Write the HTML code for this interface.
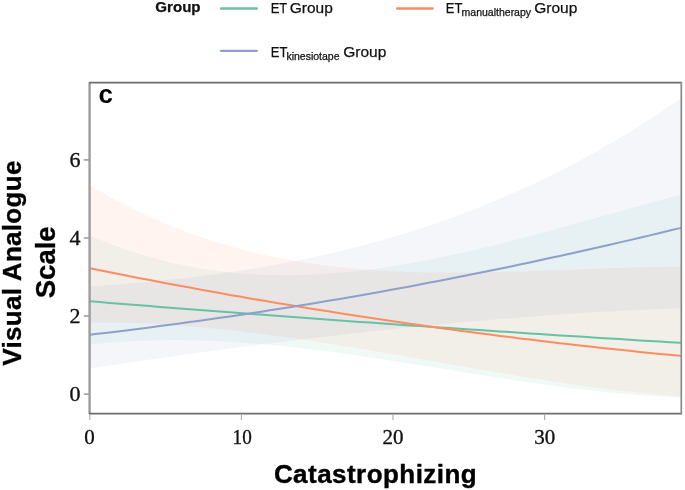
<!DOCTYPE html>
<html><head><meta charset="utf-8">
<style>
html,body{margin:0;padding:0;background:#fff;}
body{width:685px;height:490px;overflow:hidden;}
svg{display:block;will-change:transform;filter:blur(0.4px);}
text{font-family:"Liberation Sans",sans-serif;fill:#000;}
.tk{font-family:"Liberation Serif",serif;font-size:21px;fill:#111;stroke:#111;stroke-width:0.35px;}
.lg{font-size:15.5px;fill:#111;stroke:#111;stroke-width:0.25px;}
.lg.sub{font-size:10.5px;}
.b{font-weight:bold;}
</style></head><body>
<svg width="685" height="490" viewBox="0 0 685 490">
<rect width="685" height="490" fill="#fff"/>
<!-- legend -->
<text x="155.3" y="12.4" class="lg b" style="font-size:15px" textLength="45.3" lengthAdjust="spacingAndGlyphs">Group</text>
<line x1="221.1" y1="8.5" x2="256.9" y2="8.5" stroke="#66C2A5" stroke-width="2.3" stroke-linecap="round"/>
<text x="270.7" y="12.9" class="lg" textLength="16.6" lengthAdjust="spacingAndGlyphs">ET</text><text x="289.7" y="12.9" class="lg">Group</text>
<line x1="397.1" y1="8.5" x2="432.7" y2="8.5" stroke="#FC8D62" stroke-width="2.3" stroke-linecap="round"/>
<text x="445.8" y="12.9" class="lg" textLength="16.6" lengthAdjust="spacingAndGlyphs">ET</text><text x="461.6" y="15.5" class="lg sub">manualtherapy</text><text x="534.2" y="12.9" class="lg">Group</text>
<line x1="221" y1="50.8" x2="256.8" y2="50.8" stroke="#8DA0CB" stroke-width="2.3" stroke-linecap="round"/>
<text x="270.8" y="57.4" class="lg" textLength="16.6" lengthAdjust="spacingAndGlyphs">ET</text><text x="286.4" y="60.1" class="lg sub">kinesiotape</text><text x="343.2" y="57.4" class="lg">Group</text>
<!-- plot -->
<path d="M89.8,235.3 L95.8,237.9 L101.8,240.4 L107.8,242.9 L113.8,245.2 L119.8,247.4 L125.8,249.5 L131.8,251.5 L137.8,253.5 L143.8,255.3 L149.8,257.1 L155.8,258.7 L161.8,260.3 L167.8,261.8 L173.8,263.2 L179.8,264.5 L185.8,265.8 L191.8,266.9 L197.8,268.0 L203.8,269.0 L209.8,269.9 L215.8,270.8 L221.8,271.5 L227.8,272.2 L233.8,272.8 L239.8,273.4 L245.8,273.8 L251.8,274.2 L257.8,274.6 L263.8,274.8 L269.8,275.0 L275.8,275.1 L281.8,275.2 L287.8,275.2 L293.8,275.1 L299.8,275.0 L305.8,274.8 L311.8,274.6 L317.8,274.3 L323.8,273.9 L329.8,273.5 L335.8,273.1 L341.8,272.5 L347.8,272.0 L353.8,271.4 L359.8,270.7 L365.8,270.0 L371.8,269.2 L377.8,268.4 L383.8,267.5 L389.8,266.6 L395.8,265.7 L401.8,264.7 L407.8,263.7 L413.8,262.6 L419.8,261.5 L425.8,260.4 L431.8,259.2 L437.8,258.0 L443.8,256.8 L449.8,255.5 L455.8,254.2 L461.8,252.9 L467.8,251.6 L473.8,250.2 L479.8,248.8 L485.8,247.3 L491.8,245.9 L497.8,244.4 L503.8,242.9 L509.8,241.4 L515.8,239.8 L521.8,238.3 L527.8,236.7 L533.8,235.1 L539.8,233.5 L545.8,231.9 L551.8,230.3 L557.8,228.6 L563.8,227.0 L569.8,225.3 L575.8,223.7 L581.8,222.0 L587.8,220.3 L593.8,218.7 L599.8,217.0 L605.8,215.3 L611.8,213.6 L617.8,212.0 L623.8,210.3 L629.8,208.6 L635.8,207.0 L641.8,205.3 L647.8,203.6 L653.8,202.0 L659.8,200.4 L665.8,198.7 L671.8,197.1 L677.8,195.5 L681.3,194.6 L681.3,397.5 L677.8,397.4 L671.8,397.1 L665.8,396.8 L659.8,396.5 L653.8,396.1 L647.8,395.7 L641.8,395.3 L635.8,394.8 L629.8,394.3 L623.8,393.8 L617.8,393.3 L611.8,392.7 L605.8,392.1 L599.8,391.4 L593.8,390.8 L587.8,390.1 L581.8,389.4 L575.8,388.7 L569.8,387.9 L563.8,387.2 L557.8,386.4 L551.8,385.6 L545.8,384.7 L539.8,383.9 L533.8,383.1 L527.8,382.2 L521.8,381.3 L515.8,380.4 L509.8,379.5 L503.8,378.6 L497.8,377.7 L491.8,376.7 L485.8,375.8 L479.8,374.8 L473.8,373.9 L467.8,372.9 L461.8,372.0 L455.8,371.0 L449.8,370.0 L443.8,369.1 L437.8,368.1 L431.8,367.1 L425.8,366.2 L419.8,365.2 L413.8,364.2 L407.8,363.3 L401.8,362.3 L395.8,361.4 L389.8,360.5 L383.8,359.6 L377.8,358.6 L371.8,357.7 L365.8,356.8 L359.8,356.0 L353.8,355.1 L347.8,354.2 L341.8,353.4 L335.8,352.6 L329.8,351.8 L323.8,351.0 L317.8,350.2 L311.8,349.5 L305.8,348.8 L299.8,348.1 L293.8,347.4 L287.8,346.7 L281.8,346.1 L275.8,345.5 L269.8,344.9 L263.8,344.3 L257.8,343.8 L251.8,343.3 L245.8,342.9 L239.8,342.4 L233.8,342.0 L227.8,341.7 L221.8,341.4 L215.8,341.1 L209.8,340.8 L203.8,340.6 L197.8,340.4 L191.8,340.3 L185.8,340.2 L179.8,340.1 L173.8,340.1 L167.8,340.1 L161.8,340.2 L155.8,340.3 L149.8,340.4 L143.8,340.6 L137.8,340.9 L131.8,341.2 L125.8,341.6 L119.8,342.0 L113.8,342.4 L107.8,342.9 L101.8,343.5 L95.8,344.1 L89.8,344.8 Z" fill="#66C2A5" fill-opacity="0.095"/>
<path d="M89.8,185.1 L95.8,188.7 L101.8,192.2 L107.8,195.6 L113.8,198.9 L119.8,202.1 L125.8,205.2 L131.8,208.2 L137.8,211.2 L143.8,214.0 L149.8,216.8 L155.8,219.5 L161.8,222.1 L167.8,224.6 L173.8,227.1 L179.8,229.4 L185.8,231.7 L191.8,233.9 L197.8,236.0 L203.8,238.1 L209.8,240.1 L215.8,242.0 L221.8,243.8 L227.8,245.6 L233.8,247.3 L239.8,248.9 L245.8,250.5 L251.8,252.0 L257.8,253.4 L263.8,254.8 L269.8,256.1 L275.8,257.3 L281.8,258.5 L287.8,259.6 L293.8,260.7 L299.8,261.7 L305.8,262.7 L311.8,263.6 L317.8,264.5 L323.8,265.3 L329.8,266.0 L335.8,266.7 L341.8,267.4 L347.8,268.0 L353.8,268.6 L359.8,269.1 L365.8,269.6 L371.8,270.1 L377.8,270.5 L383.8,270.8 L389.8,271.2 L395.8,271.4 L401.8,271.7 L407.8,271.9 L413.8,272.1 L419.8,272.3 L425.8,272.4 L431.8,272.5 L437.8,272.6 L443.8,272.6 L449.8,272.7 L455.8,272.7 L461.8,272.6 L467.8,272.6 L473.8,272.5 L479.8,272.4 L485.8,272.3 L491.8,272.2 L497.8,272.1 L503.8,271.9 L509.8,271.8 L515.8,271.6 L521.8,271.4 L527.8,271.2 L533.8,271.0 L539.8,270.8 L545.8,270.6 L551.8,270.3 L557.8,270.1 L563.8,269.9 L569.8,269.7 L575.8,269.4 L581.8,269.2 L587.8,269.0 L593.8,268.8 L599.8,268.5 L605.8,268.3 L611.8,268.1 L617.8,267.9 L623.8,267.7 L629.8,267.6 L635.8,267.4 L641.8,267.3 L647.8,267.1 L653.8,267.0 L659.8,266.9 L665.8,266.8 L671.8,266.8 L677.8,266.7 L681.3,266.7 L681.3,396.5 L677.8,396.3 L671.8,395.8 L665.8,395.3 L659.8,394.7 L653.8,394.1 L647.8,393.6 L641.8,392.9 L635.8,392.3 L629.8,391.6 L623.8,390.9 L617.8,390.2 L611.8,389.5 L605.8,388.7 L599.8,388.0 L593.8,387.2 L587.8,386.4 L581.8,385.5 L575.8,384.7 L569.8,383.8 L563.8,383.0 L557.8,382.1 L551.8,381.2 L545.8,380.2 L539.8,379.3 L533.8,378.4 L527.8,377.4 L521.8,376.4 L515.8,375.4 L509.8,374.5 L503.8,373.5 L497.8,372.5 L491.8,371.4 L485.8,370.4 L479.8,369.4 L473.8,368.4 L467.8,367.3 L461.8,366.3 L455.8,365.2 L449.8,364.2 L443.8,363.1 L437.8,362.1 L431.8,361.0 L425.8,360.0 L419.8,358.9 L413.8,357.9 L407.8,356.9 L401.8,355.8 L395.8,354.8 L389.8,353.7 L383.8,352.7 L377.8,351.7 L371.8,350.7 L365.8,349.6 L359.8,348.6 L353.8,347.6 L347.8,346.7 L341.8,345.7 L335.8,344.7 L329.8,343.8 L323.8,342.8 L317.8,341.9 L311.8,341.0 L305.8,340.1 L299.8,339.2 L293.8,338.3 L287.8,337.5 L281.8,336.6 L275.8,335.8 L269.8,335.0 L263.8,334.2 L257.8,333.4 L251.8,332.7 L245.8,332.0 L239.8,331.3 L233.8,330.6 L227.8,329.9 L221.8,329.3 L215.8,328.7 L209.8,328.1 L203.8,327.5 L197.8,327.0 L191.8,326.5 L185.8,326.0 L179.8,325.6 L173.8,325.1 L167.8,324.7 L161.8,324.4 L155.8,324.0 L149.8,323.7 L143.8,323.5 L137.8,323.3 L131.8,323.1 L125.8,322.9 L119.8,322.8 L113.8,322.7 L107.8,322.6 L101.8,322.6 L95.8,322.6 L89.8,322.7 Z" fill="#FC8D62" fill-opacity="0.095"/>
<path d="M89.8,286.3 L95.8,285.9 L101.8,285.5 L107.8,285.1 L113.8,284.7 L119.8,284.2 L125.8,283.7 L131.8,283.3 L137.8,282.8 L143.8,282.2 L149.8,281.7 L155.8,281.1 L161.8,280.5 L167.8,279.9 L173.8,279.3 L179.8,278.7 L185.8,278.0 L191.8,277.3 L197.8,276.6 L203.8,275.8 L209.8,275.0 L215.8,274.2 L221.8,273.4 L227.8,272.6 L233.8,271.7 L239.8,270.8 L245.8,269.8 L251.8,268.9 L257.8,267.9 L263.8,266.9 L269.8,265.8 L275.8,264.7 L281.8,263.6 L287.8,262.5 L293.8,261.3 L299.8,260.1 L305.8,258.9 L311.8,257.6 L317.8,256.3 L323.8,255.0 L329.8,253.6 L335.8,252.2 L341.8,250.8 L347.8,249.3 L353.8,247.8 L359.8,246.3 L365.8,244.7 L371.8,243.1 L377.8,241.4 L383.8,239.7 L389.8,238.0 L395.8,236.2 L401.8,234.4 L407.8,232.5 L413.8,230.6 L419.8,228.7 L425.8,226.7 L431.8,224.7 L437.8,222.7 L443.8,220.6 L449.8,218.4 L455.8,216.2 L461.8,214.0 L467.8,211.7 L473.8,209.4 L479.8,207.0 L485.8,204.6 L491.8,202.2 L497.8,199.7 L503.8,197.1 L509.8,194.5 L515.8,191.9 L521.8,189.2 L527.8,186.4 L533.8,183.7 L539.8,180.8 L545.8,177.9 L551.8,175.0 L557.8,172.0 L563.8,168.9 L569.8,165.8 L575.8,162.7 L581.8,159.5 L587.8,156.2 L593.8,152.9 L599.8,149.6 L605.8,146.1 L611.8,142.7 L617.8,139.1 L623.8,135.6 L629.8,131.9 L635.8,128.2 L641.8,124.5 L647.8,120.6 L653.8,116.8 L659.8,112.8 L665.8,108.8 L671.8,104.8 L677.8,100.7 L681.3,98.3 L681.3,308.0 L677.8,308.2 L671.8,308.4 L665.8,308.6 L659.8,308.9 L653.8,309.2 L647.8,309.4 L641.8,309.7 L635.8,310.0 L629.8,310.3 L623.8,310.6 L617.8,310.9 L611.8,311.3 L605.8,311.6 L599.8,311.9 L593.8,312.3 L587.8,312.7 L581.8,313.0 L575.8,313.4 L569.8,313.8 L563.8,314.2 L557.8,314.6 L551.8,315.0 L545.8,315.5 L539.8,315.9 L533.8,316.3 L527.8,316.8 L521.8,317.3 L515.8,317.7 L509.8,318.2 L503.8,318.7 L497.8,319.2 L491.8,319.7 L485.8,320.2 L479.8,320.7 L473.8,321.2 L467.8,321.8 L461.8,322.3 L455.8,322.9 L449.8,323.4 L443.8,324.0 L437.8,324.6 L431.8,325.1 L425.8,325.7 L419.8,326.3 L413.8,326.9 L407.8,327.5 L401.8,328.1 L395.8,328.8 L389.8,329.4 L383.8,330.0 L377.8,330.7 L371.8,331.3 L365.8,332.0 L359.8,332.7 L353.8,333.3 L347.8,334.0 L341.8,334.7 L335.8,335.4 L329.8,336.1 L323.8,336.8 L317.8,337.5 L311.8,338.2 L305.8,338.9 L299.8,339.6 L293.8,340.4 L287.8,341.1 L281.8,341.9 L275.8,342.6 L269.8,343.4 L263.8,344.1 L257.8,344.9 L251.8,345.7 L245.8,346.4 L239.8,347.2 L233.8,348.0 L227.8,348.8 L221.8,349.6 L215.8,350.4 L209.8,351.2 L203.8,352.0 L197.8,352.9 L191.8,353.7 L185.8,354.5 L179.8,355.3 L173.8,356.2 L167.8,357.0 L161.8,357.9 L155.8,358.7 L149.8,359.6 L143.8,360.4 L137.8,361.3 L131.8,362.2 L125.8,363.0 L119.8,363.9 L113.8,364.8 L107.8,365.7 L101.8,366.6 L95.8,367.4 L89.8,368.3 Z" fill="#8DA0CB" fill-opacity="0.095"/>
<path d="M89.8,301.3 L99.8,302.1 L109.8,302.9 L119.8,303.7 L129.8,304.5 L139.8,305.3 L149.8,306.1 L159.8,306.9 L169.8,307.7 L179.8,308.4 L189.8,309.2 L199.8,310.0 L209.8,310.8 L219.8,311.5 L229.8,312.3 L239.8,313.1 L249.8,313.8 L259.8,314.6 L269.8,315.3 L279.8,316.1 L289.8,316.8 L299.8,317.5 L309.8,318.3 L319.8,319.0 L329.8,319.7 L339.8,320.4 L349.8,321.2 L359.8,321.9 L369.8,322.6 L379.8,323.3 L389.8,324.0 L399.8,324.7 L409.8,325.4 L419.8,326.1 L429.8,326.8 L439.8,327.4 L449.8,328.1 L459.8,328.8 L469.8,329.5 L479.8,330.1 L489.8,330.8 L499.8,331.5 L509.8,332.1 L519.8,332.8 L529.8,333.4 L539.8,334.1 L549.8,334.7 L559.8,335.4 L569.8,336.0 L579.8,336.6 L589.8,337.3 L599.8,337.9 L609.8,338.5 L619.8,339.1 L629.8,339.7 L639.8,340.4 L649.8,341.0 L659.8,341.6 L669.8,342.2 L679.8,342.8 L681.3,342.8" fill="none" stroke="#66C2A5" stroke-width="2.0" stroke-linejoin="round"/>
<path d="M89.8,268.3 L99.8,270.3 L109.8,272.3 L119.8,274.3 L129.8,276.3 L139.8,278.2 L149.8,280.1 L159.8,282.0 L169.8,283.9 L179.8,285.8 L189.8,287.6 L199.8,289.5 L209.8,291.3 L219.8,293.1 L229.8,294.9 L239.8,296.6 L249.8,298.4 L259.8,300.1 L269.8,301.8 L279.8,303.5 L289.8,305.1 L299.8,306.8 L309.8,308.4 L319.8,310.0 L329.8,311.6 L339.8,313.2 L349.8,314.7 L359.8,316.3 L369.8,317.8 L379.8,319.3 L389.8,320.8 L399.8,322.3 L409.8,323.7 L419.8,325.1 L429.8,326.5 L439.8,327.9 L449.8,329.3 L459.8,330.7 L469.8,332.0 L479.8,333.3 L489.8,334.6 L499.8,335.9 L509.8,337.1 L519.8,338.4 L529.8,339.6 L539.8,340.8 L549.8,342.0 L559.8,343.2 L569.8,344.3 L579.8,345.5 L589.8,346.6 L599.8,347.7 L609.8,348.7 L619.8,349.8 L629.8,350.8 L639.8,351.9 L649.8,352.9 L659.8,353.9 L669.8,354.8 L679.8,355.8 L681.3,355.9" fill="none" stroke="#FC8D62" stroke-width="2.0" stroke-linejoin="round"/>
<path d="M89.8,334.8 L99.8,333.6 L109.8,332.4 L119.8,331.2 L129.8,330.0 L139.8,328.7 L149.8,327.4 L159.8,326.1 L169.8,324.8 L179.8,323.5 L189.8,322.1 L199.8,320.7 L209.8,319.3 L219.8,317.8 L229.8,316.4 L239.8,314.9 L249.8,313.4 L259.8,311.9 L269.8,310.3 L279.8,308.8 L289.8,307.2 L299.8,305.6 L309.8,303.9 L319.8,302.3 L329.8,300.6 L339.8,298.9 L349.8,297.2 L359.8,295.4 L369.8,293.7 L379.8,291.9 L389.8,290.1 L399.8,288.2 L409.8,286.4 L419.8,284.5 L429.8,282.6 L439.8,280.7 L449.8,278.7 L459.8,276.8 L469.8,274.8 L479.8,272.8 L489.8,270.8 L499.8,268.7 L509.8,266.7 L519.8,264.6 L529.8,262.4 L539.8,260.3 L549.8,258.1 L559.8,256.0 L569.8,253.8 L579.8,251.5 L589.8,249.3 L599.8,247.0 L609.8,244.7 L619.8,242.4 L629.8,240.1 L639.8,237.7 L649.8,235.4 L659.8,233.0 L669.8,230.5 L679.8,228.1 L681.3,227.7" fill="none" stroke="#8DA0CB" stroke-width="2.0" stroke-linejoin="round"/>
<text x="98.5" y="103" style="font-size:26px;font-weight:bold">c</text>
<!-- axes -->
<line x1="89.6" y1="82.5" x2="89.6" y2="414.3" stroke="#9c9c9c" stroke-width="2.4"/>
<line x1="89" y1="413.6" x2="682" y2="413.6" stroke="#6e6e6e" stroke-width="1.6"/>
<line x1="89" y1="82.6" x2="682" y2="82.6" stroke="#6e6e6e" stroke-width="1.6"/>
<line x1="681.3" y1="82" x2="681.3" y2="414.3" stroke="#8a8a8a" stroke-width="1.7"/>
<line x1="83.8" y1="394.1" x2="89" y2="394.1" stroke="#a4a4a4" stroke-width="1.7"/>
<text x="80.6" y="401.4" text-anchor="end" class="tk" style="font-size:22px">0</text>
<line x1="83.8" y1="316.0" x2="89" y2="316.0" stroke="#a4a4a4" stroke-width="1.7"/>
<text x="80.6" y="323.3" text-anchor="end" class="tk" style="font-size:22px">2</text>
<line x1="83.8" y1="238.0" x2="89" y2="238.0" stroke="#a4a4a4" stroke-width="1.7"/>
<text x="80.6" y="245.3" text-anchor="end" class="tk" style="font-size:22px">4</text>
<line x1="83.8" y1="159.9" x2="89" y2="159.9" stroke="#a4a4a4" stroke-width="1.7"/>
<text x="80.6" y="167.2" text-anchor="end" class="tk" style="font-size:22px">6</text>
<line x1="89.8" y1="414.5" x2="89.8" y2="420" stroke="#aaa" stroke-width="1.1"/>
<text x="89.6" y="444" text-anchor="middle" class="tk">0</text>
<line x1="241.4" y1="414.5" x2="241.4" y2="420" stroke="#aaa" stroke-width="1.1"/>
<text x="242.2" y="444" text-anchor="middle" class="tk" textLength="19.2" lengthAdjust="spacingAndGlyphs">10</text>
<line x1="393.0" y1="414.5" x2="393.0" y2="420" stroke="#aaa" stroke-width="1.1"/>
<text x="393.1" y="444" text-anchor="middle" class="tk">20</text>
<line x1="544.6" y1="414.5" x2="544.6" y2="420" stroke="#aaa" stroke-width="1.1"/>
<text x="544.7" y="444" text-anchor="middle" class="tk">30</text>
<!-- axis titles -->
<text x="273.9" y="483" style="font-size:26px;font-weight:bold;letter-spacing:0.45px;stroke:#000;stroke-width:0.4px">Catastrophizing</text>
<text transform="translate(20.8,263) rotate(-90)" text-anchor="middle" style="font-size:26px;font-weight:bold;letter-spacing:0.3px;stroke:#000;stroke-width:0.35px">Visual Analogue</text>
<text transform="translate(54.6,262.3) rotate(-90)" text-anchor="middle" style="font-size:27.5px;font-weight:bold;stroke:#000;stroke-width:0.35px">Scale</text>
</svg>
</body></html>
